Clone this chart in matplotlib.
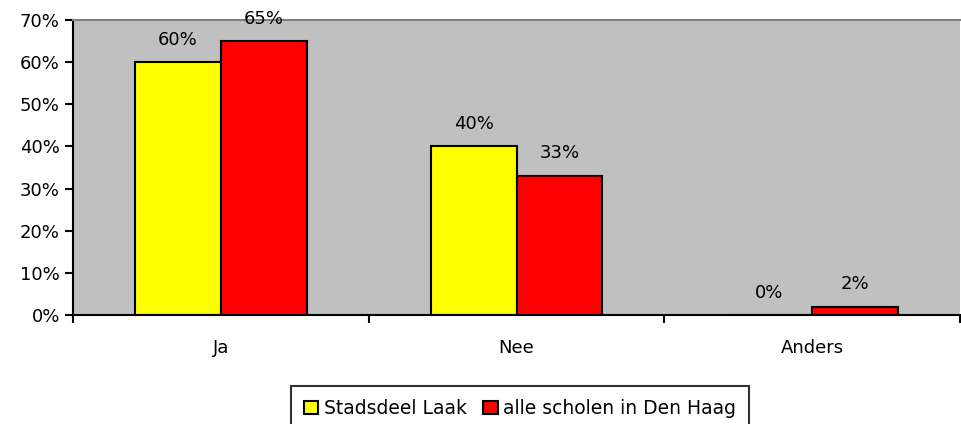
import matplotlib.pyplot as plt
from matplotlib.ticker import FixedLocator
import numpy as np

categories = ['Ja', 'Nee', 'Anders']
laak = [60, 40, 0]
den_haag = [65, 33, 2]
series_names = ['Stadsdeel Laak', 'alle scholen in Den Haag']

fig = plt.figure(figsize=(9.61, 4.24), dpi=100)
ax = fig.add_axes([73 / 961, 1 - 315 / 424, 887 / 961, 295 / 424])
ax.set_facecolor('#C0C0C0')

x = np.arange(len(categories))
w = 0.29
b1 = ax.bar(x - w / 2, laak, w, color='#FFFF00', edgecolor='black', linewidth=1.5,
            label=series_names[0])
b2 = ax.bar(x + w / 2, den_haag, w, color='#FF0000', edgecolor='black', linewidth=1.5,
            label=series_names[1])

# value labels above the bars
for bars, vals in ((b1, laak), (b2, den_haag)):
    for rect, v in zip(bars, vals):
        ax.text(rect.get_x() + rect.get_width() / 2, v + 3.2, f'{v}%',
                ha='center', va='bottom', fontsize=13)

ax.set_xlim(-0.5, len(categories) - 0.5)
ax.set_ylim(0, 70)
ax.set_yticks(range(0, 71, 10))
ax.set_yticklabels([f'{v}%' for v in range(0, 71, 10)], fontsize=13)
ax.set_xticks(x)
ax.set_xticklabels(categories, fontsize=13)
ax.tick_params(axis='x', length=0, pad=17)
ax.xaxis.set_minor_locator(FixedLocator(np.arange(-0.5, len(categories), 1)))
ax.tick_params(axis='x', which='minor', length=6, width=1.5, direction='out')
ax.tick_params(axis='y', length=6, width=1.5, direction='out')

ax.spines['top'].set_color('#808080')
ax.spines['top'].set_linewidth(1.5)
ax.spines['right'].set_visible(False)
for side in ('left', 'bottom'):
    ax.spines[side].set_linewidth(1.5)

leg = fig.legend(loc='upper center', bbox_to_anchor=(520 / 961, 1 - 386 / 424), ncol=2,
                 fontsize=13.5, frameon=True, fancybox=False, edgecolor='black',
                 handlelength=0.75, handleheight=0.75, handletextpad=0.3,
                 columnspacing=0.9, borderpad=0.7, borderaxespad=0)
leg.get_frame().set_linewidth(1.5)

fig.savefig('out.png', dpi=100)
